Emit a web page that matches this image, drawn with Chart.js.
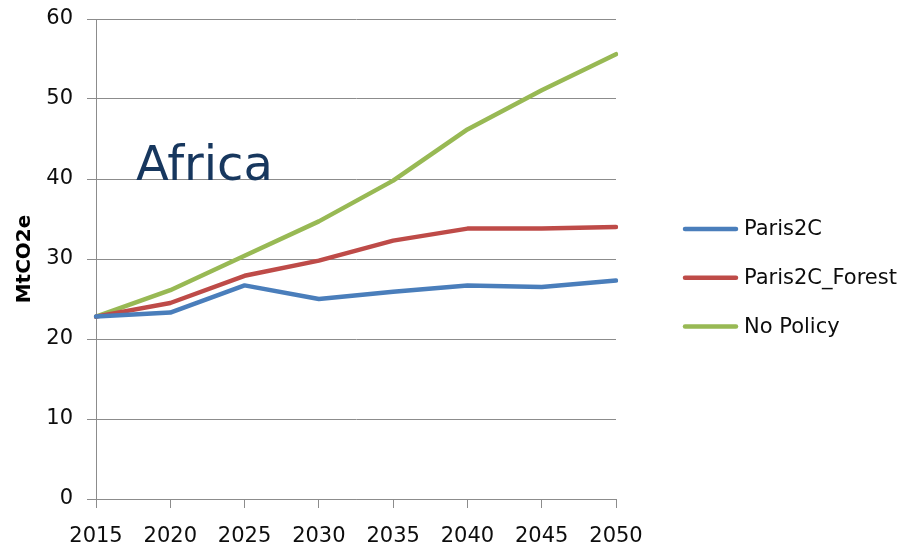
<!DOCTYPE html>
<html>
<head>
<meta charset="utf-8">
<script src="https://cdn.jsdelivr.net/npm/chart.js@4/dist/chart.umd.min.js"></script>
<style>
  body { margin: 0; background: #fff; }
  #wrap { width: 907px; height: 544px; }
</style>
</head>
<body>
<div id="wrap"><canvas id="emissions" width="907" height="544"></canvas></div>
<script>
const years = ["2015", "2020", "2025", "2030", "2035", "2040", "2045", "2050"]

// MtCO2e per scenario
const paris2C = [22.8, 23.3, 26.7, 25.0, 25.9, 26.7, 26.5, 27.3]
const paris2CForest = [22.8, 24.5, 27.9, 29.8, 32.3, 33.8, 33.8, 34.0]
const noPolicy = [22.8, 26.1, 30.4, 34.7, 39.8, 46.2, 51.1, 55.6]

const yTicks = [0, 10, 20, 30, 40, 50, 60]

const regionName = "Africa"
const font = "'DejaVu Sans', Verdana, sans-serif"

// region name inside the plot + legend on the right
const extras = {
  id: "extras",
  afterDraw(chart) {
    const ctx = chart.ctx
    ctx.save()
    ctx.fillStyle = "#17375e"
    ctx.font = "48px " + font
    ctx.textBaseline = "alphabetic"
    ctx.fillText(regionName, 136, 180)

    ctx.font = "21px " + font
    ctx.textBaseline = "middle"
    chart.data.datasets.forEach((ds, i) => {
      const y = 229 + i * 48.7
      ctx.strokeStyle = ds.borderColor
      ctx.lineWidth = 4.5
      ctx.lineCap = "round"
      ctx.beginPath()
      ctx.moveTo(685, y)
      ctx.lineTo(736, y)
      ctx.stroke()
      ctx.fillStyle = "#0d0d0d"
      ctx.fillText(ds.label, 744, y + 1)
    })
    ctx.restore()
  }
}

const lineStyle = {
  borderWidth: 4.5,
  pointRadius: 0,
  tension: 0,
  borderJoinStyle: "round",
  borderCapStyle: "round"
}

new Chart(document.getElementById("emissions"), {
  type: "line",
  data: {
    labels: years,
    datasets: [
      { label: "Paris2C", data: paris2C, borderColor: "#4a7ebb", ...lineStyle },
      { label: "Paris2C_Forest", data: paris2CForest, borderColor: "#be4b48", ...lineStyle },
      { label: "No Policy", data: noPolicy, borderColor: "#98b954", ...lineStyle }
    ]
  },
  options: {
    responsive: false,
    animation: false,
    layout: { padding: { top: 19, right: 291, bottom: 0, left: 0 } },
    plugins: {
      legend: { display: false },
      tooltip: { enabled: false }
    },
    scales: {
      x: {
        offset: false,
        grid: { drawOnChartArea: false, drawTicks: true, tickLength: 9, color: "#8c8c8c" },
        border: { color: "#8c8c8c", width: 1 },
        ticks: { color: "#0d0d0d", font: { family: font, size: 21 }, padding: 16, maxRotation: 0 },
        afterFit(scale) { scale.height = 45 }
      },
      y: {
        min: 0,
        max: 60,
        afterBuildTicks(scale) { scale.ticks = yTicks.map(v => ({ value: v })) },
        grid: { color: "#8c8c8c", tickLength: 9 },
        border: { color: "#8c8c8c", width: 1 },
        ticks: { color: "#0d0d0d", font: { family: font, size: 21 }, padding: 14 },
        title: {
          display: true,
          text: "MtCO2e",
          color: "#000",
          font: { family: font, size: 20, weight: "bold" },
          padding: { top: 13, bottom: 0 }
        },
        afterFit(scale) {
          scale.width = 96
          scale.paddingTop = 0
          scale.paddingBottom = 0
        }
      }
    }
  },
  plugins: [extras]
})
</script>
</body>
</html>
